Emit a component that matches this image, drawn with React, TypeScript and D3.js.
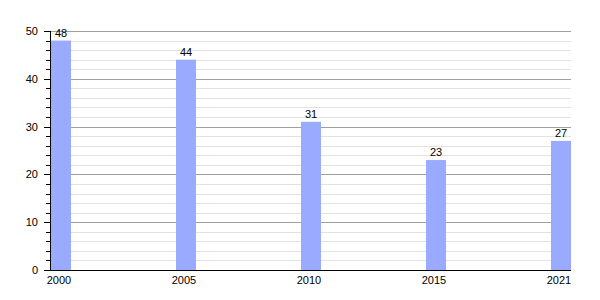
import React from "react";
import * as d3 from "d3";

const years = ["2000", "2005", "2010", "2015", "2021"];
const values = [48, 44, 31, 23, 27];
const yTicks = [0, 10, 20, 30, 40, 50];

export default function App() {
  const W = 600, H = 300;
  const left = 50, right = 571, top = 31, bottom = 270;
  const x = d3.scalePoint<string>().domain(years).range([61, 561]);
  const y = d3.scaleLinear().domain([0, 50]).range([bottom, top]);
  const minor = d3.range(0, 51, 2).filter((v) => v % 10 !== 0);
  const bw = 20;
  const font = "Liberation Sans, Arial, sans-serif";
  return (
    <svg width={W} height={H} style={{ position: "absolute", left: 0, top: 0 }} fontFamily={font}>
      <rect width={W} height={H} fill="#fff" />
      {minor.map((v) => (
        <line key={"m" + v} x1={left} x2={right} y1={Math.round(y(v)) + 0.5} y2={Math.round(y(v)) + 0.5} stroke="#e2e2e2" strokeWidth={1} />
      ))}
      {yTicks.filter((v) => v > 0).map((v) => (
        <line key={"g" + v} x1={left} x2={right} y1={Math.round(y(v)) + 0.5} y2={Math.round(y(v)) + 0.5} stroke="#a0a0a0" strokeWidth={1} />
      ))}
      {years.map((yr, i) => (
        <rect key={yr} x={(x(yr) as number) - bw / 2} y={y(values[i])} width={bw} height={bottom - y(values[i])} fill="#99aaff" />
      ))}
      {years.map((yr, i) => (
        <text key={"v" + yr} x={x(yr)} y={y(values[i]) - 4} textAnchor="middle" fontSize={11} fill="#000">
          {values[i]}
        </text>
      ))}
      {minor.map((v) => (
        <line key={"mt" + v} x1={left - 4} x2={left} y1={Math.round(y(v)) + 0.5} y2={Math.round(y(v)) + 0.5} stroke="#000" />
      ))}
      {yTicks.map((v) => (
        <line key={"t" + v} x1={left - 6} x2={left} y1={Math.round(y(v)) + 0.5} y2={Math.round(y(v)) + 0.5} stroke="#000" />
      ))}
      {yTicks.map((v) => (
        <text key={"tl" + v} x={left - 12} y={y(v) + 4} textAnchor="end" fontSize={11} fill="#000">
          {v}
        </text>
      ))}
      <line x1={left + 0.5} x2={left + 0.5} y1={top} y2={bottom} stroke="#000" />
      <line x1={left} x2={right} y1={bottom + 0.5} y2={bottom + 0.5} stroke="#000" />
      {years.map((yr) => (
        <text key={"x" + yr} x={(x(yr) as number) - 2} y={bottom + 14} textAnchor="middle" fontSize={11} fill="#000">
          {yr}
        </text>
      ))}
    </svg>
  );
}
